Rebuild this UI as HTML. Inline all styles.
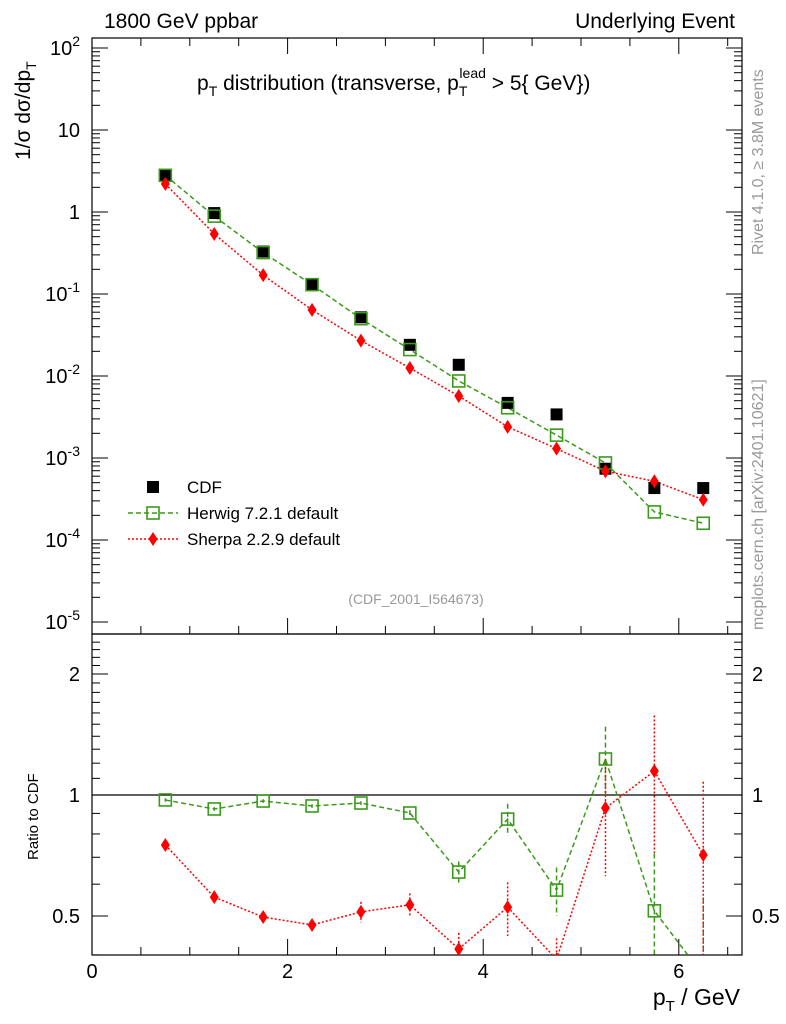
<!DOCTYPE html>
<html><head><meta charset="utf-8"><style>
html,body{margin:0;background:#fff;width:786px;height:1024px;overflow:hidden;position:relative}
svg{display:block;font-family:"Liberation Sans",sans-serif}
</style></head><body>
<svg id="c" width="786" height="1024" viewBox="0 0 786 1024" style="position:absolute;left:0;top:0">
<g id="g"></g>
</svg>
<script>
const xs=[0.75,1.25,1.75,2.25,2.75,3.25,3.75,4.25,4.75,5.25,5.75,6.25];
const cdf=[2.8,0.97,0.33,0.13,0.052,0.024,0.0137,0.0047,0.0034,0.00074,0.00043,0.00043];
const herwig=[2.8,0.89,0.32,0.13,0.05,0.021,0.0087,0.0041,0.0019,0.00087,0.00022,0.00016];
const sherpa=[2.2,0.54,0.17,0.064,0.027,0.0125,0.0057,0.0024,0.0013,0.00069,0.00052,0.00031];
const herwigRatio=[0.972,0.923,0.966,0.939,0.955,0.902,0.643,0.871,0.58,1.229,0.515,0.356];
const herwigRatioErr=[0.01,0.01,0.01,0.01,0.01,0.015,0.04,0.08,0.08,0.25,0.2,0.2];
const sherpaRatio=[0.751,0.557,0.497,0.475,0.512,0.533,0.414,0.526,0.39,0.928,1.147,0.709];
const sherpaRatioErr=[0.01,0.01,0.01,0.015,0.03,0.036,0.04,0.08,0.05,0.3,0.43,0.37];
const xTicks=[0,2,4,6];
const yExp=[-5,-4,-3,-2,-1,0,1,2];
const rTicks=[0.5,1,2];

const NS="http://www.w3.org/2000/svg",g=document.getElementById('g');
function el(t,a,txt,p){const e=document.createElementNS(NS,t);for(const k in a)e.setAttribute(k,a[k]);if(txt!=null)e.textContent=txt;(p||g).appendChild(e);return e;}
const L=92,R=742,T1=38,B1=634,B2=955;
const X=v=>L+v*97.8;
const Y=v=>212-Math.log10(v)*82;
const YR=v=>795-Math.log2(v)*121;
let f1=el('rect',{x:L,y:T1,width:R-L,height:B1-T1,fill:'none',stroke:'#000','stroke-width':1.2});

let f2=el('rect',{x:L,y:B1,width:R-L,height:B2-B1,fill:'none',stroke:'#000','stroke-width':1.2});

for(let v=0;v<=6.6;v+=0.5){const maj=Math.abs(v%2)<1e-9;const len=maj?16:8;const x=X(v);
 [B1,B2].forEach(b=>el('line',{x1:x,x2:x,y1:b,y2:b-len,stroke:'#000'}));
 el('line',{x1:x,x2:x,y1:T1,y2:T1+len,stroke:'#000'});}
xTicks.forEach(v=>{const t=el('text',{x:X(v),y:978,'font-size':20,'text-anchor':'middle'},v);});
yExp.forEach(e=>{const y=Y(Math.pow(10,e));
 el('line',{x1:L,x2:L+16,y1:y,y2:y,stroke:'#000'});el('line',{x1:R,x2:R-16,y1:y,y2:y,stroke:'#000'});
 for(let m=2;m<10;m++){const yy=Y(m*Math.pow(10,e));if(yy>T1&&yy<B1){el('line',{x1:L,x2:L+8,y1:yy,y2:yy,stroke:'#000'});el('line',{x1:R,x2:R-8,y1:yy,y2:yy,stroke:'#000'});}}
 let t;
 if(e===0)t=el('text',{x:80,y:y+7,'font-size':20,'text-anchor':'end'},'1');
 else if(e===1)t=el('text',{x:80,y:y+7,'font-size':20,'text-anchor':'end'},'10');
 else{t=el('text',{x:80,y:y+7,'font-size':20,'text-anchor':'end'});el('tspan',{},'10',t);el('tspan',{dy:-9,'font-size':14},e,t);}
 
});
for(let v=0.4;v<=2.5;v+=0.1){const y=YR(v);if(y<B1||y>B2)continue;const maj=rTicks.some(r=>Math.abs(r-v)<1e-6);const len=maj?16:8;
 el('line',{x1:L,x2:L+len,y1:y,y2:y,stroke:'#000'});el('line',{x1:R,x2:R-len,y1:y,y2:y,stroke:'#000'});}
rTicks.forEach(v=>{const y=YR(v);
 let t=el('text',{x:80,y:y+7,'font-size':20,'text-anchor':'end'},v);
 t=el('text',{x:752,y:y+7,'font-size':20},v);});
el('line',{x1:L,x2:R,y1:YR(1),y2:YR(1),stroke:'#000','stroke-width':1.3});
const defs=el('defs',{});
const cp=el('clipPath',{id:'cr'},null,defs);el('rect',{x:L,y:B1,width:R-L,height:B2-B1},null,cp);
const cm=el('clipPath',{id:'cm'},null,defs);el('rect',{x:L,y:T1,width:R-L,height:B1-T1},null,cm);
const gm=el('g',{'clip-path':'url(#cm)'}),gr=el('g',{'clip-path':'url(#cr)'});
function poly(p,arr,fy,col,dash,name){const pts=xs.map((x,i)=>X(x)+','+fy(arr[i])).join(' ');const l=el('polyline',{points:pts,fill:'none',stroke:col,'stroke-width':1.5,'stroke-dasharray':dash},null,p);}
function sq(p,x,y,name){const r=el('rect',{x:x-6,y:y-6,width:12,height:12,fill:'none',stroke:'#3a9a1a','stroke-width':1.6},null,p);}
function dia(p,x,y,name){const d=el('polygon',{points:`${x},${y-7} ${x+4.5},${y} ${x},${y+7} ${x-4.5},${y}`,fill:'#f00'},null,p);}
poly(gm,herwig,Y,'#3a9a1a','5,3','herwig-line');
poly(gm,sherpa,Y,'#f00','2,2','sherpa-line');
xs.forEach((x,i)=>{const c=el('rect',{x:X(x)-6,y:Y(cdf[i])-6,width:12,height:12,fill:'#000'},null,gm);
 sq(gm,X(x),Y(herwig[i]),'herwig-point');dia(gm,X(x),Y(sherpa[i]),'sherpa-point');});
xs.forEach((x,i)=>{
 el('line',{x1:X(x),x2:X(x),y1:YR(herwigRatio[i]+herwigRatioErr[i]),y2:YR(Math.max(0.05,herwigRatio[i]-herwigRatioErr[i])),stroke:'#3a9a1a','stroke-width':1.5,'stroke-dasharray':'5,3'},null,gr);
 el('line',{x1:X(x),x2:X(x),y1:YR(sherpaRatio[i]+sherpaRatioErr[i]),y2:YR(Math.max(0.05,sherpaRatio[i]-sherpaRatioErr[i])),stroke:'#f00','stroke-width':1.5,'stroke-dasharray':'2,2'},null,gr);});
poly(gr,herwigRatio,YR,'#3a9a1a','5,3','herwig-ratio-line');
poly(gr,sherpaRatio,YR,'#f00','2,2','sherpa-ratio-line');
xs.forEach((x,i)=>{sq(gr,X(x),YR(herwigRatio[i]),'herwig-ratio-point');dia(gr,X(x),YR(sherpaRatio[i]),'sherpa-ratio-point');});
let lc=el('rect',{x:147,y:481,width:12,height:12,fill:'#000'});
el('line',{x1:128,x2:178,y1:513,y2:513,stroke:'#3a9a1a','stroke-width':1.5,'stroke-dasharray':'5,3'});sq(g,153,513,'legend-herwig-marker');
el('line',{x1:128,x2:178,y1:539,y2:539,stroke:'#f00','stroke-width':1.5,'stroke-dasharray':'2,2'});dia(g,153,539,'legend-sherpa-marker');
</script>
<svg width="786" height="1024" style="position:absolute;left:0;top:0">
<text x="104" y="28" font-size="21">1800 GeV ppbar</text>
<text x="735" y="28" font-size="21" text-anchor="end">Underlying Event</text>
<text x="197" y="90" font-size="21">p<tspan font-size="14" dy="6">T</tspan><tspan dy="-6"> distribution (transverse, p</tspan><tspan font-size="14" dy="6">T</tspan><tspan font-size="14" dx="-8" dy="-18">lead</tspan><tspan dy="12"> &gt; 5{ GeV})</tspan></text>
<text transform="translate(30,160) rotate(-90)" font-size="21">1/σ  dσ/dp<tspan font-size="14" dy="6">T</tspan></text>
<text transform="translate(38,860) rotate(-90)" font-size="15">Ratio to CDF</text>
<text x="740" y="1005" font-size="23" text-anchor="end">p<tspan font-size="15" dy="6">T</tspan><tspan dy="-6"> / GeV</tspan></text>
<text x="187" y="493" font-size="17">CDF</text>
<text x="187" y="519" font-size="17">Herwig 7.2.1 default</text>
<text x="187" y="545" font-size="17">Sherpa 2.2.9 default</text>
<text x="416" y="604" font-size="14" fill="#999" text-anchor="middle">(CDF_2001_I564673)</text>
<text transform="translate(763,255) rotate(-90)" font-size="16" fill="#999">Rivet 4.1.0, ≥ 3.8M events</text>
<text transform="translate(763,630) rotate(-90)" font-size="16" fill="#999">mcplots.cern.ch [arXiv:2401.10621]</text>
</svg>
</body></html>
